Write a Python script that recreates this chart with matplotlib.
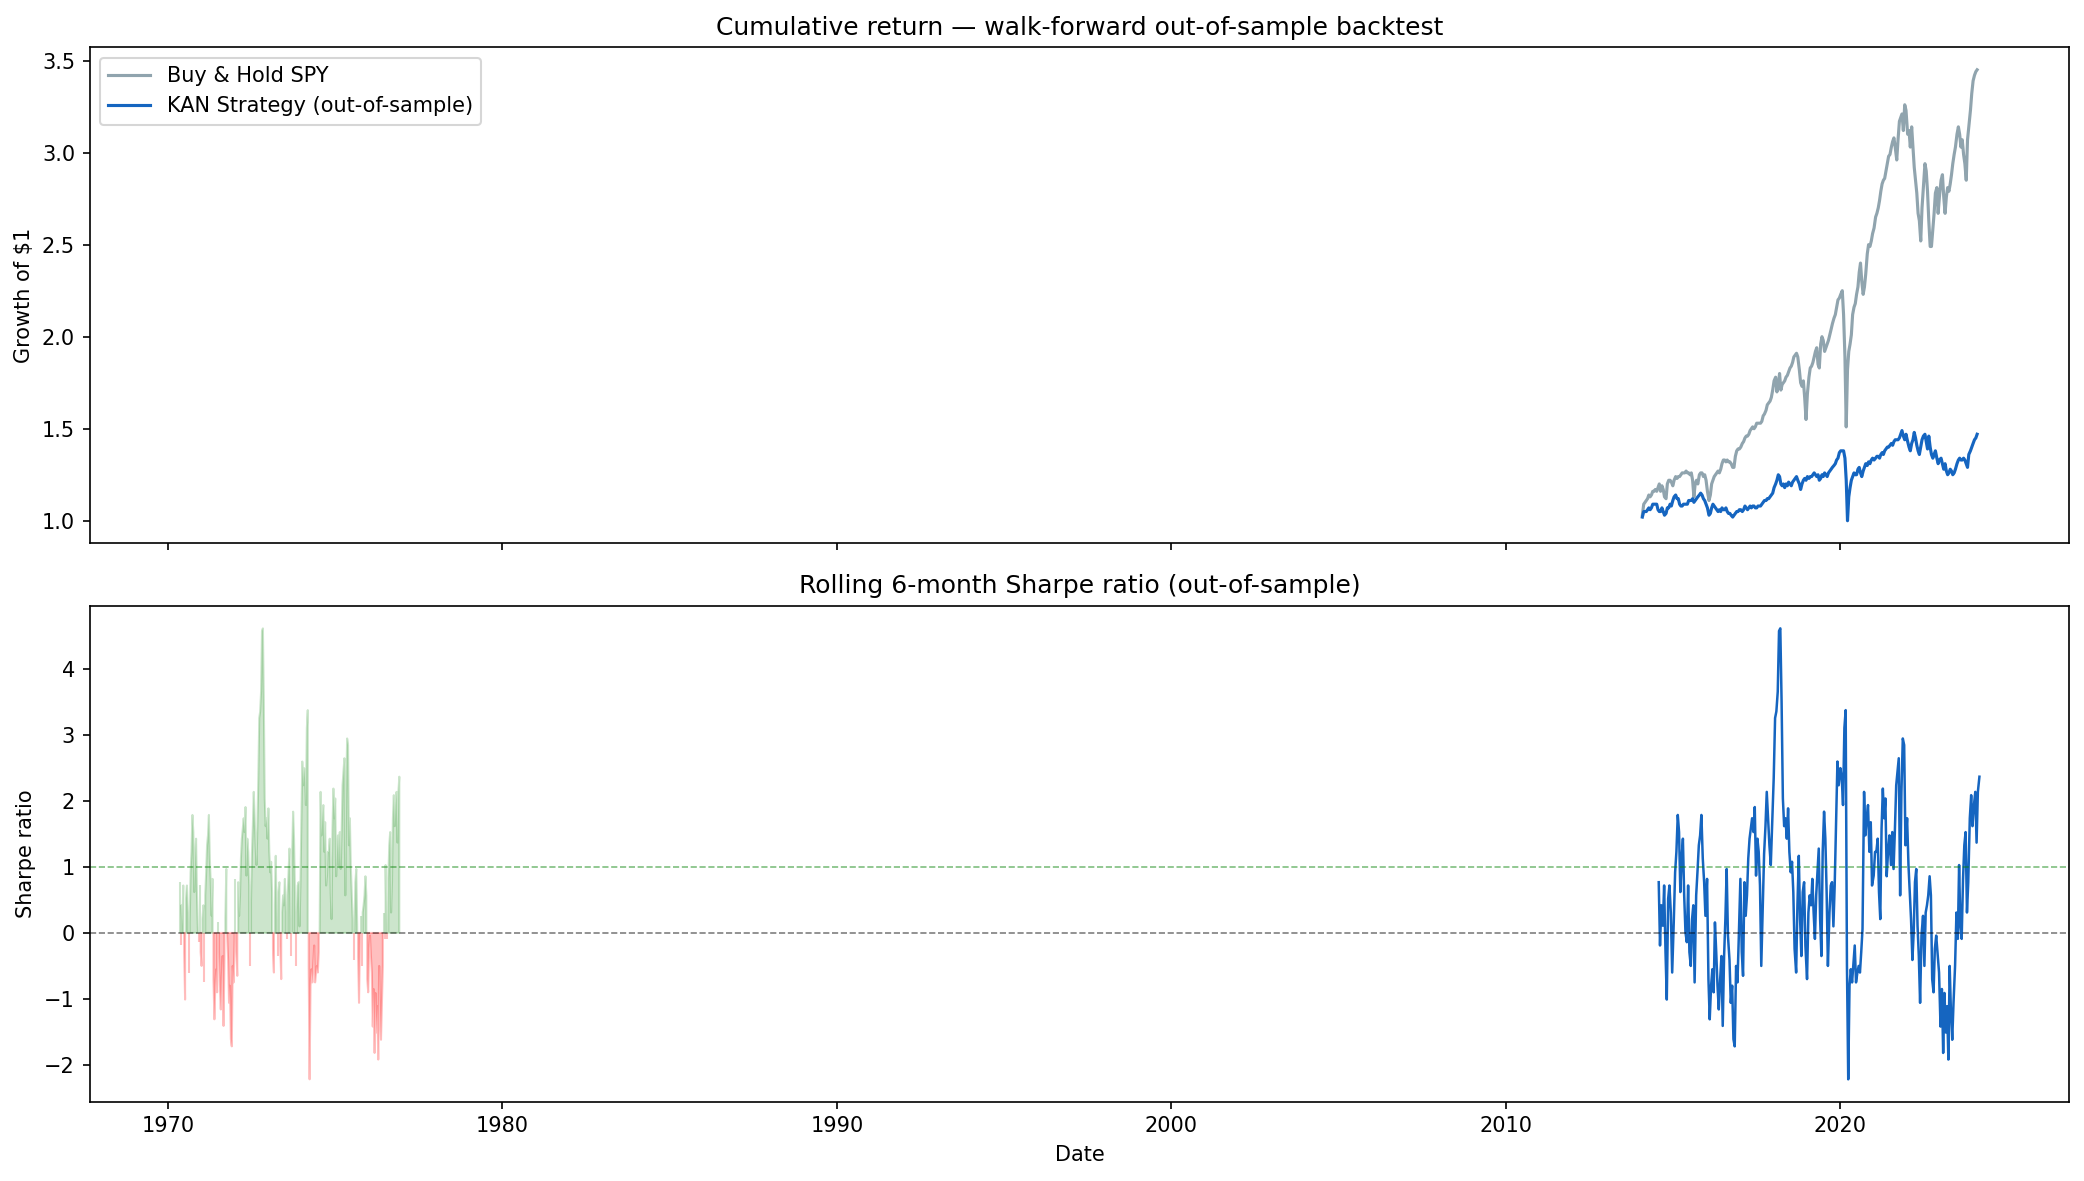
import numpy as np
import pandas as pd
import matplotlib

matplotlib.use("Agg")
import matplotlib.pyplot as plt
from pandas.tseries.holiday import USFederalHolidayCalendar

# trading calendar of the out-of-sample period (values sampled every STEP days)
START = "2014-02-03"
END = "2024-06-28"
WINDOW = 126
STEP = 10

# growth of $1, one value every STEP trading days
spy_growth = [
    1.03, 1.09, 1.10, 1.11, 1.12, 1.14, 1.13, 1.14, 1.16, 1.16,
    1.17, 1.16, 1.18, 1.20, 1.16, 1.19, 1.17, 1.13, 1.12, 1.20,
    1.22, 1.22, 1.21, 1.19, 1.22, 1.24, 1.23, 1.24, 1.24, 1.25,
    1.26, 1.26, 1.26, 1.27, 1.26, 1.26, 1.25, 1.26, 1.22, 1.13,
    1.20, 1.22, 1.20, 1.25, 1.26, 1.26, 1.24, 1.25, 1.22, 1.16,
    1.11, 1.14, 1.20, 1.22, 1.24, 1.25, 1.26, 1.27, 1.26, 1.28,
    1.31, 1.33, 1.33, 1.32, 1.33, 1.32, 1.32, 1.31, 1.29, 1.29,
    1.35, 1.38, 1.39, 1.39, 1.40, 1.42, 1.43, 1.45, 1.46, 1.46,
    1.47, 1.49, 1.50, 1.51, 1.50, 1.51, 1.53, 1.53, 1.53, 1.53,
    1.54, 1.57, 1.58, 1.60, 1.63, 1.64, 1.65, 1.67, 1.71, 1.76,
    1.78, 1.70, 1.74, 1.80, 1.71, 1.74, 1.75, 1.76, 1.78, 1.79,
    1.81, 1.83, 1.84, 1.86, 1.89, 1.90, 1.91, 1.89, 1.82, 1.75,
    1.73, 1.76, 1.67, 1.55, 1.69, 1.78, 1.83, 1.84, 1.86, 1.89,
    1.92, 1.94, 1.85, 1.83, 1.96, 2.00, 1.98, 1.92, 1.94, 1.96,
    1.98, 2.01, 2.04, 2.07, 2.10, 2.12, 2.16, 2.20, 2.21, 2.23,
    2.25, 2.12, 1.89, 1.51, 1.82, 1.92, 1.96, 2.01, 2.12, 2.16,
    2.18, 2.23, 2.27, 2.35, 2.40, 2.30, 2.23, 2.27, 2.34, 2.45,
    2.50, 2.49, 2.52, 2.56, 2.59, 2.65, 2.67, 2.70, 2.74, 2.79,
    2.83, 2.85, 2.86, 2.90, 2.94, 2.98, 2.99, 3.03, 3.06, 3.08,
    3.03, 2.96, 3.07, 3.17, 3.19, 3.21, 3.12, 3.26, 3.23, 3.10,
    3.12, 3.03, 3.14, 3.03, 2.92, 2.85, 2.78, 2.67, 2.63, 2.52,
    2.70, 2.81, 2.94, 2.90, 2.79, 2.63, 2.49, 2.49, 2.58, 2.67,
    2.78, 2.81, 2.67, 2.76, 2.85, 2.88, 2.76, 2.67, 2.76, 2.81,
    2.79, 2.83, 2.88, 2.94, 2.99, 3.03, 3.10, 3.14, 3.10, 3.03,
    3.07, 2.99, 2.94, 2.85, 3.07, 3.14, 3.23, 3.32, 3.39, 3.42,
    3.44, 3.45,
]

kan_growth = [
    1.02, 1.05, 1.05, 1.05, 1.06, 1.07, 1.06, 1.07, 1.09, 1.09,
    1.09, 1.09, 1.06, 1.05, 1.05, 1.07, 1.05, 1.03, 1.04, 1.07,
    1.07, 1.09, 1.08, 1.11, 1.13, 1.14, 1.12, 1.12, 1.09, 1.08,
    1.08, 1.09, 1.09, 1.09, 1.09, 1.11, 1.11, 1.11, 1.12, 1.10,
    1.11, 1.12, 1.13, 1.14, 1.15, 1.14, 1.12, 1.11, 1.09, 1.07,
    1.03, 1.04, 1.07, 1.09, 1.08, 1.07, 1.06, 1.05, 1.06, 1.05,
    1.07, 1.06, 1.06, 1.07, 1.05, 1.04, 1.04, 1.03, 1.02, 1.03,
    1.04, 1.05, 1.05, 1.06, 1.06, 1.05, 1.06, 1.08, 1.07, 1.06,
    1.07, 1.08, 1.07, 1.08, 1.08, 1.07, 1.07, 1.08, 1.08, 1.08,
    1.09, 1.10, 1.11, 1.11, 1.12, 1.12, 1.13, 1.14, 1.15, 1.18,
    1.20, 1.22, 1.25, 1.24, 1.20, 1.19, 1.20, 1.18, 1.20, 1.19,
    1.21, 1.20, 1.19, 1.21, 1.22, 1.23, 1.24, 1.22, 1.20, 1.17,
    1.20, 1.22, 1.23, 1.22, 1.24, 1.23, 1.24, 1.24, 1.25, 1.26,
    1.25, 1.24, 1.25, 1.22, 1.23, 1.25, 1.24, 1.26, 1.25, 1.24,
    1.26, 1.27, 1.28, 1.29, 1.30, 1.31, 1.33, 1.34, 1.37, 1.38,
    1.38, 1.38, 1.34, 1.22, 1.00, 1.13, 1.18, 1.22, 1.24, 1.26,
    1.25, 1.25, 1.28, 1.29, 1.26, 1.24, 1.27, 1.29, 1.31, 1.30,
    1.32, 1.31, 1.33, 1.34, 1.33, 1.34, 1.35, 1.35, 1.34, 1.36,
    1.37, 1.36, 1.38, 1.39, 1.40, 1.40, 1.41, 1.42, 1.41, 1.43,
    1.44, 1.44, 1.44, 1.45, 1.47, 1.49, 1.46, 1.44, 1.47, 1.43,
    1.40, 1.38, 1.42, 1.44, 1.48, 1.45, 1.41, 1.38, 1.36, 1.40,
    1.44, 1.46, 1.47, 1.43, 1.39, 1.46, 1.40, 1.36, 1.34, 1.36,
    1.38, 1.34, 1.31, 1.33, 1.34, 1.31, 1.28, 1.31, 1.27, 1.25,
    1.26, 1.28, 1.27, 1.25, 1.26, 1.28, 1.31, 1.33, 1.34, 1.33,
    1.33, 1.34, 1.33, 1.31, 1.29, 1.36, 1.38, 1.40, 1.42, 1.44,
    1.45, 1.47,
]

# rolling 6-month Sharpe, one value every STEP trading days after the warm-up window
sharpe = [
    0.77, -0.19, 0.42, 0.11, 0.72, -0.29, -1.01, 0.52, 0.72, 0.31,
    -0.60, 0.16, 0.92, 1.23, 1.79, 1.53, 0.62, 1.13, 1.43, 0.57,
    0.01, -0.14, 0.72, -0.29, -0.50, 0.21, 0.42, -0.75, 0.57, 0.92,
    1.33, 1.48, 1.79, 1.13, 0.77, 0.26, 0.82, -0.70, -1.31, -0.80,
    -0.55, -0.90, 0.16, -0.29, -0.80, -1.16, -0.70, -0.35, -1.41, -0.35,
    0.21, 0.97, -0.04, -0.41, -1.06, -0.80, -1.61, -1.72, -0.50, -0.75,
    -0.09, 0.82, -0.29, -0.65, 0.77, 0.26, 0.57, 1.13, 1.43, 1.58,
    1.74, 1.53, 1.91, 0.87, 1.43, 1.23, 0.72, -0.50, 0.47, 1.20,
    1.62, 2.14, 1.74, 1.33, 1.03, 1.62, 2.35, 3.26, 3.36, 3.66,
    4.58, 4.62, 3.51, 2.04, 1.62, 1.74, 1.43, 1.89, 1.23, 0.92,
    1.08, 0.62, -0.24, -0.60, 0.42, 1.17, 0.21, -0.35, 0.62, 0.77,
    -0.19, -0.70, 0.31, 0.57, 0.42, 0.82, 0.31, -0.09, 0.57, 0.92,
    1.28, 0.21, -0.35, 1.23, 1.84, 1.43, 0.62, -0.50, 0.31, 0.72,
    0.77, 0.10, 0.72, 1.68, 2.60, 2.24, 2.50, 2.35, 1.94, 3.11,
    3.38, -0.50, -2.22, -0.80, -0.55, -0.75, -0.45, -0.19, -0.75, -0.60,
    -0.50, -0.60, -0.29, 0.06, 2.14, 1.48, 1.74, 1.94, 1.23, 1.68,
    0.72, 0.87, 1.23, 1.23, 1.43, 0.62, 0.21, 1.58, 2.19, 1.74,
    2.04, 0.86, 1.23, 1.48, 1.03, 1.53, 0.97, 1.53, 2.24, 2.45,
    2.65, 0.57, 2.14, 2.95, 2.85, 1.33, 1.74, 1.03, 0.62, 0.21,
    -0.41, 0.01, 0.77, 0.97, 0.11, -0.35, -1.06, -0.04, 0.26, -0.50,
    0.31, 0.42, 0.57, 0.86, 0.57, -0.70, -0.90, -0.24, -0.04, -0.35,
    -0.60, -1.42, -0.85, -1.82, -0.91, -1.51, -1.11, -1.92, -0.50, -1.21,
    -1.62, -1.06, -0.50, 0.31, -0.09, 1.03, 0.11, -0.09, 0.82, 1.33,
    1.53, 0.31, 0.77, 1.74, 2.09, 1.62, 1.94, 2.14, 1.37, 2.14,
    2.37,
]

SPY_COLOR = "#90a4ae"
KAN_COLOR = "#1565c0"
DPI = 150


def trading_days():
    cal = USFederalHolidayCalendar()
    days = pd.bdate_range(START, END, freq="C", holidays=cal.holidays(START, END))
    n_days = WINDOW + STEP * (len(sharpe) - 1) + 1
    return days[:n_days]


def main():
    days = trading_days()
    growth_dates = days[::STEP][: len(spy_growth)]
    sharpe_dates = days[WINDOW::STEP][: len(sharpe)]
    sharpe_arr = np.asarray(sharpe)
    # the shaded area was drawn against the row number, not the date
    row_pos = WINDOW + STEP * np.arange(len(sharpe))

    fig, (ax1, ax2) = plt.subplots(2, 1, figsize=(2084 / DPI, 1181 / DPI), sharex=True)

    ax1.plot(growth_dates, spy_growth, color=SPY_COLOR, linewidth=1.5, label="Buy & Hold SPY")
    ax1.plot(growth_dates, kan_growth[: len(growth_dates)], color=KAN_COLOR, linewidth=1.5,
             label="KAN Strategy (out-of-sample)")
    ax1.set_title("Cumulative return — walk-forward out-of-sample backtest")
    ax1.set_ylabel("Growth of $1")
    ax1.legend(loc="upper left")

    ax2.plot(sharpe_dates, sharpe_arr, color=KAN_COLOR, linewidth=1.2)
    ax2.fill_between(row_pos, 0, sharpe_arr, where=sharpe_arr >= 0, color="green", alpha=0.2)
    ax2.fill_between(row_pos, 0, sharpe_arr, where=sharpe_arr < 0, color="red", alpha=0.25)
    ax2.axhline(0, color="black", linestyle="--", linewidth=0.8, alpha=0.5)
    ax2.axhline(1, color="green", linestyle="--", linewidth=0.8, alpha=0.5)
    ax2.set_title("Rolling 6-month Sharpe ratio (out-of-sample)")
    ax2.set_ylabel("Sharpe ratio")
    ax2.set_xlabel("Date")

    fig.subplots_adjust(left=0.043, right=0.993, top=0.960, bottom=0.067, hspace=0.126)
    fig.savefig("out.png", dpi=DPI)
    plt.close(fig)


if __name__ == "__main__":
    main()
